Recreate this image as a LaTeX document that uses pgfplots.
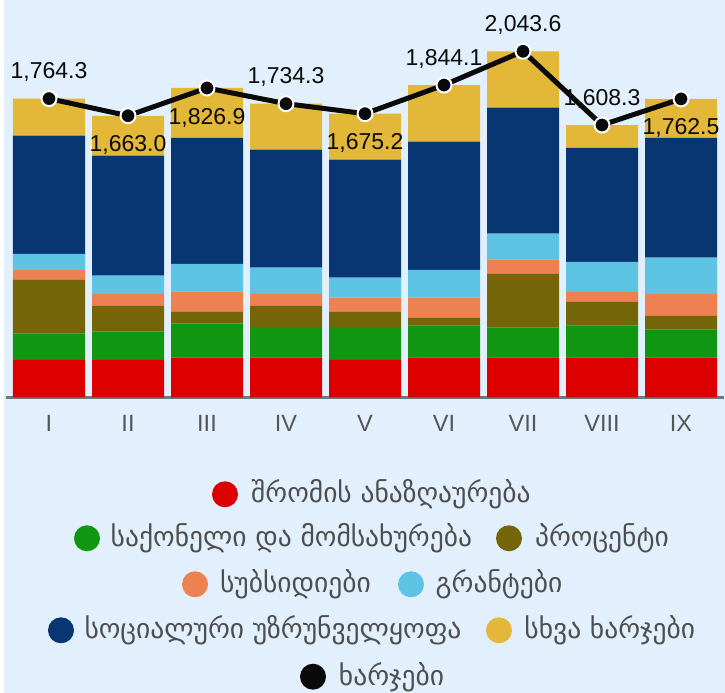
\documentclass[border=0pt]{standalone}
\usepackage{fontspec}
\setmainfont{Liberation Sans}
\newfontfamily\geo{DejaVu Sans}
\usepackage{pgfplots}
\usepackage{pgfplotstable}
\pgfplotsset{compat=1.18}

\definecolor{bgc}{RGB}{226,240,253}
\definecolor{cred}{RGB}{221,0,0}
\definecolor{cgreen}{RGB}{17,150,17}
\definecolor{colive}{RGB}{115,101,8}
\definecolor{corange}{RGB}{237,129,81}
\definecolor{ccyan}{RGB}{93,196,228}
\definecolor{cnavy}{RGB}{8,54,114}
\definecolor{cyellow}{RGB}{227,183,55}
\definecolor{cblack}{RGB}{10,10,10}
\definecolor{axisgray}{RGB}{112,119,128}
\definecolor{tickgray}{RGB}{85,85,85}
\definecolor{legtext}{RGB}{78,78,78}

\pgfplotstableread{
x red green olive orange cyan navy yellow
0 222 156 317 59 94 697 219.3
1 222 168 151 71 107 708 236.0
2 236 201 69 120 163 744 293.9
3 236 175 130 71 154 697 271.3
4 222 189 95 83 118 697 271.2
5 236 189 45 119 165 756 334.1
6 236 177 317 85 152 744 332.6
7 236 189 140 59 177 673 134.3
8 236 166 80 130 213 708 229.5
}\bars

\pgfplotstableread{
x total pos
0 1764.3 1
1 1663.0 -1
2 1826.9 -1
3 1734.3 1
4 1675.2 -1
5 1844.1 1
6 2043.6 1
7 1608.3 1
8 1762.5 -1
}\totals

\pgfplotsset{geom/.style={at={(5.55bp,295.5bp)}, anchor=south west,
  scale only axis, width=718.9bp, height=372.7bp,
  xmin=-0.55, xmax=8.55, ymin=0, ymax=2200, clip=false}}

% #1 colour, #2 circle x, #3 row y, #4 text centre x, #5 text
\newcommand{\legitem}[5]{%
  \fill[#1] (#2,#3) circle (13);
  \node[anchor=base, inner sep=0pt, text=legtext,
        font=\geo\fontsize{27.5bp}{32bp}\selectfont] at (#4,#3-8.5) {#5};
}

\begin{document}
\begin{tikzpicture}[x=1bp,y=1bp]
\path[use as bounding box] (0,0) rectangle (725,693);
\clip (0,0) rectangle (725,693);
\fill[bgc, rounded corners=14bp] (4,-40) rectangle (780,740);

\begin{axis}[geom, ybar stacked, bar width=0.9114,
  axis y line=none, axis x line=bottom,
  x axis line style={draw=axisgray, line width=2.3bp, -},
  xtick={0,...,8}, xticklabels={I,II,III,IV,V,VI,VII,VIII,IX},
  major tick length=0pt,
  xticklabel style={text=tickgray, font=\fontsize{23.5bp}{28bp}\selectfont, yshift=-14bp}]
\addplot[fill=cred, draw=none] table[x=x,y=red]{\bars};
\addplot[fill=cgreen, draw=none] table[x=x,y=green]{\bars};
\addplot[fill=colive, draw=none] table[x=x,y=olive]{\bars};
\addplot[fill=corange, draw=none] table[x=x,y=orange]{\bars};
\addplot[fill=ccyan, draw=none] table[x=x,y=cyan]{\bars};
\addplot[fill=cnavy, draw=none] table[x=x,y=navy]{\bars};
\addplot[fill=cyellow, draw=none] table[x=x,y=yellow]{\bars};
\end{axis}

\begin{axis}[geom, hide axis,
  /pgf/number format/.cd, fixed, fixed zerofill, precision=1, 1000 sep={,}, assume math mode=true]
\addplot[draw=none, mark=none, point meta=y,
  visualization depends on={\thisrow{pos} \as \lpos},
  nodes near coords,
  nodes near coords style={anchor=center, yshift=\lpos*28bp-1.5bp, text=cblack,
     font=\fontsize{23bp}{27bp}\selectfont}]
  table[x=x,y=total]{\totals};
\addplot[cblack, line width=5bp, line join=round, mark=*, mark size=7.5bp,
  mark options={fill=cblack, draw=white, line width=2bp}]
  table[x=x,y=total]{\totals};
\end{axis}

\legitem{cred}{225}{198.7}{390.9}{შრომის ანაზღაურება}
\legitem{cgreen}{87}{154.7}{291.4}{საქონელი და მომსახურება}
\legitem{colive}{509}{154.7}{601.9}{პროცენტი}
\legitem{corange}{195}{108.7}{295.5}{სუბსიდიები}
\legitem{ccyan}{411}{108.7}{499}{გრანტები}
\legitem{cnavy}{61}{62.7}{273}{სოციალური უზრუნველყოფა}
\legitem{cyellow}{499}{62.7}{609.8}{სხვა ხარჯები}
\legitem{cblack}{313}{16.3}{391.5}{ხარჯები}
\end{tikzpicture}
\end{document}
